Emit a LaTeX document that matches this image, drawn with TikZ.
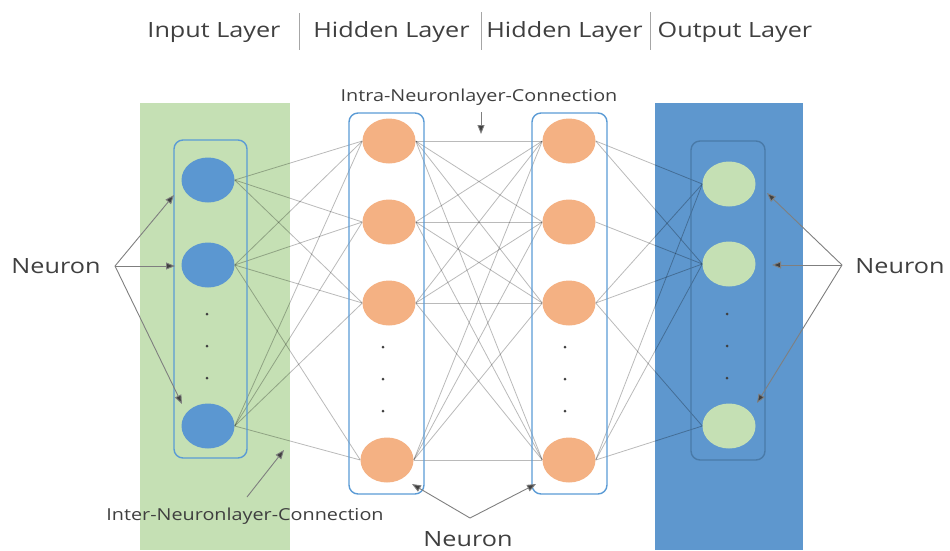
\documentclass[tikz,border=0pt]{standalone}
\usepackage{graphicx}
\usepackage{fontspec}
\setmainfont{Open Sans}
\usetikzlibrary{shapes.geometric,arrows.meta}
\definecolor{panelgreen}{HTML}{C5E0B4}
\definecolor{panelblue}{HTML}{5E97CE}
\definecolor{inblue}{HTML}{5B97D1}
\definecolor{hidorange}{HTML}{F4B183}
\definecolor{boxblue}{HTML}{5B9BD5}
\definecolor{boxdark}{HTML}{44739F}
\definecolor{txt}{HTML}{3F3F3F}
\definecolor{arrowgray}{HTML}{7F7F7F}
\definecolor{tipgray}{HTML}{404040}

% the lettering is set a little wider than the font's own proportions
\newcommand\widetext[1]{\scalebox{1.2}[1]{#1}}

\pgfdeclarelayer{panels}
\pgfdeclarelayer{wires}
\pgfsetlayers{panels,wires,main}

\tikzset{
  neuron/.style={ellipse, minimum width=53pt, minimum height=45pt, inner sep=0pt},
  innode/.style={neuron, fill=inblue},
  hidnode/.style={neuron, fill=hidorange},
  outnode/.style={neuron, fill=panelgreen},
  layerbox/.style={draw=boxblue, line width=1.4pt, rounded corners=9pt},
  conn/.style={draw=black, draw opacity=0.27, line width=0.8pt},
  pointer/.style={draw=arrowgray, line width=0.9pt,
    -{Triangle[length=9pt,width=7pt,fill=tipgray]}},
  vdot/.style={circle, fill=tipgray, inner sep=0pt, minimum size=3pt},
  title/.style={anchor=base, inner sep=0pt, text=txt, font=\fontsize{21}{25}\selectfont},
  bigtag/.style={anchor=base, inner sep=0pt, text=txt, font=\fontsize{21}{25}\selectfont},
  smalltag/.style={anchor=base, inner sep=0pt, text=txt, font=\fontsize{16.5}{20}\selectfont},
  sep/.style={draw=gray!70, line width=0.8pt}
}

\begin{document}
\begin{tikzpicture}[x=1pt,y=-1pt]
\useasboundingbox (0,0) rectangle (950,550);

% layer panels
\begin{pgfonlayer}{panels}
\fill[panelgreen] (140,103) rectangle (290,550);
\fill[panelblue] (655,103) rectangle (803,550);
\end{pgfonlayer}

% layer titles and separators
\node[title] (tin)  at (214,37) {\widetext{Input Layer}};
\node[title] (th1)  at (391.5,37) {\widetext{Hidden Layer}};
\node[title] (th2)  at (564.5,37) {\widetext{Hidden Layer}};
\node[title] (tout) at (735,37) {\widetext{Output Layer}};
\draw[sep] (299,13) -- (299,50);
\draw[sep] (481,12) -- (481,50);
\draw[sep] (650,12) -- (650,50);

% layer frames
\draw[layerbox] (174,140) rectangle (247,458);
\draw[layerbox] (349,113) rectangle (424,494);
\draw[layerbox] (532,113) rectangle (607,494);
\draw[layerbox, draw=boxdark, draw opacity=0.8] (691,141) rectangle (765,460);

% neurons
\node[innode] (i1) at (208,180) {};
\node[innode] (i2) at (208,265) {};
\node[innode] (i3) at (208,426) {};

\node[hidnode] (a1) at (389,141) {};
\node[hidnode] (a2) at (389,222) {};
\node[hidnode] (a3) at (389,303) {};
\node[hidnode] (a4) at (387,460) {};

\node[hidnode] (b1) at (569,141) {};
\node[hidnode] (b2) at (569,222) {};
\node[hidnode] (b3) at (569,303) {};
\node[hidnode] (b4) at (569,460) {};

\node[outnode] (o1) at (729,184) {};
\node[outnode] (o2) at (729,264) {};
\node[outnode] (o3) at (729,426) {};

% ellipsis dots
\foreach \y [count=\k] in {314,346,378} {
  \node[vdot] (di\k) at (207,\y) {};
  \node[vdot] (do\k) at (727,\y) {};
}
\foreach \y [count=\k] in {347,379,411} {
  \node[vdot] (da\k) at (383,\y) {};
  \node[vdot] (db\k) at (565,\y) {};
}

% weighted connections between layers
\begin{pgfonlayer}{wires}
% input -> hidden 1
\foreach \s/\t in {i1/a1,i1/a2,i1/a3,
                   i2/a1,i2/a2,i2/a3,i2/a4,
                   i3/a1,i3/a2,i3/a3,i3/a4}
  \draw[conn] (\s.east) -- (\t.west);
% hidden 1 -> hidden 2
\foreach \s in {a1,a2,a3,a4}
  \foreach \t in {b1,b2,b3,b4}
    \draw[conn] (\s.east) -- (\t.west);
% hidden 2 -> output
\foreach \s/\t in {b1/o1,b1/o2,b2/o2,
                   b3/o1,b3/o2,b3/o3,
                   b4/o1,b4/o2,b4/o3}
  \draw[conn] (\s.east) -- (\t.west);
\end{pgfonlayer}

% annotations
\node[bigtag] (nl) at (56,273) {\widetext{Neuron}};
\node[bigtag] (nr) at (900,273) {\widetext{Neuron}};
\node[bigtag] (nb) at (468,546) {\widetext{Neuron}};
\node[smalltag] (intra) at (479,101) {\widetext{Intra-Neuronlayer-Connection}};
\node[smalltag] (inter) at (245,520) {\widetext{Inter-Neuronlayer-Connection}};

\coordinate (nlo) at (115,266);
\coordinate (nro) at (842,265);
\coordinate (nbo) at (470,518);
\coordinate (ltip1) at (174,195);
\coordinate (ltip2) at (175,266);
\coordinate (ltip3) at (182,404);
\coordinate (rtip1) at (767,193);
\coordinate (rtip2) at (772,265);
\coordinate (rtip3) at (757,403);
\coordinate (btip1) at (412,484);
\coordinate (btip2) at (536,484);
\coordinate (intraA) at (481,112);
\coordinate (intraB) at (481,134);
\coordinate (interA) at (247,497);
\coordinate (interB) at (284,450);

\draw[pointer] (nlo) -- (ltip1);
\draw[pointer] (nlo) -- (ltip2);
\draw[pointer] (nlo) -- (ltip3);
\draw[pointer] (nro) -- (rtip1);
\draw[pointer] (nro) -- (rtip2);
\draw[pointer] (nro) -- (rtip3);
\draw[pointer] (nbo) -- (btip1);
\draw[pointer] (nbo) -- (btip2);
\draw[pointer] (intraA) -- (intraB);
\draw[pointer] (interA) -- (interB);
\end{tikzpicture}
\end{document}
